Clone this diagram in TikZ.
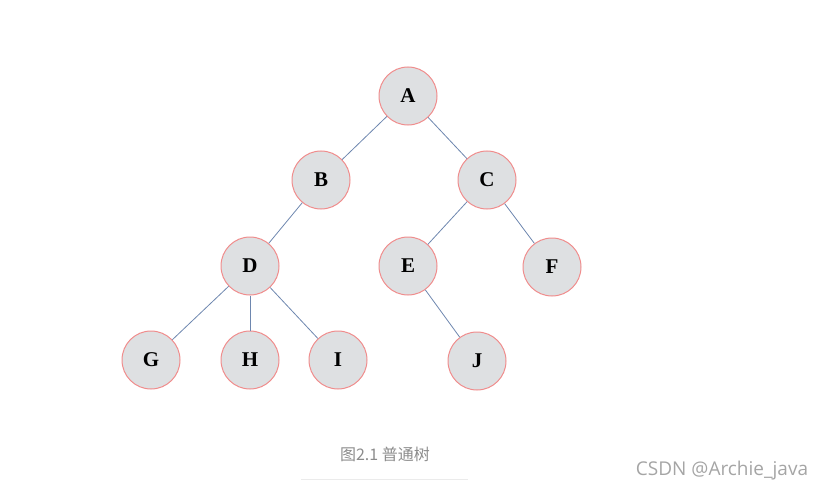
\documentclass[tikz,border=0pt]{standalone}
\usepackage{fontspec}
\setmainfont{Liberation Serif}
\newfontfamily\cjk{Noto Sans CJK SC}
\newfontfamily\wm{Open Sans}
\definecolor{nodefill}{RGB}{222,224,226}
\definecolor{nodeline}{RGB}{240,140,140}
\definecolor{edgecol}{RGB}{110,135,175}
\definecolor{captcol}{RGB}{140,140,140}
\definecolor{wmcol}{RGB}{165,165,165}
\definecolor{rulecol}{RGB}{235,235,235}
\begin{document}
\begin{tikzpicture}[x=1pt,y=-1pt,
  tnode/.style={circle,draw=nodeline,fill=nodefill,line width=1pt,minimum size=58pt,inner sep=0pt,font=\fontsize{21}{22}\selectfont\bfseries},
  edge/.style={draw=edgecol,line width=0.8pt}]
\useasboundingbox (0,0) rectangle (824,492);
\node[tnode] (A) at (408,96) {A};
\node[tnode] (B) at (321,180) {B};
\node[tnode] (C) at (487,180) {C};
\node[tnode] (D) at (250,266) {D};
\node[tnode] (E) at (408,266) {E};
\node[tnode] (F) at (552,267) {F};
\node[tnode] (G) at (151,360) {G};
\node[tnode] (H) at (250,360) {H};
\node[tnode] (I) at (338,360) {I};
\node[tnode] (J) at (477,361) {J};
\draw[edge] (A) -- (B);
\draw[edge] (A) -- (C);
\draw[edge] (B) -- (D);
\draw[edge] (C) -- (E);
\draw[edge] (C) -- (F);
\draw[edge] (D) -- (G);
\draw[edge] (D) -- (H);
\draw[edge] (D) -- (I);
\draw[edge] (E) -- (J);
\node[text=captcol,font=\cjk\fontsize{16}{18}\selectfont] (cap) at (385,454) {图2.1 普通树};
\coordinate (r1) at (301,479);
\coordinate (r2) at (468,479);
\draw[rulecol,line width=1pt] (r1) -- (r2);
\node[text=wmcol,font=\wm\fontsize{19}{21}\selectfont] (wm) at (722,471) {CSDN @Archie\_java};
\end{tikzpicture}
\end{document}
